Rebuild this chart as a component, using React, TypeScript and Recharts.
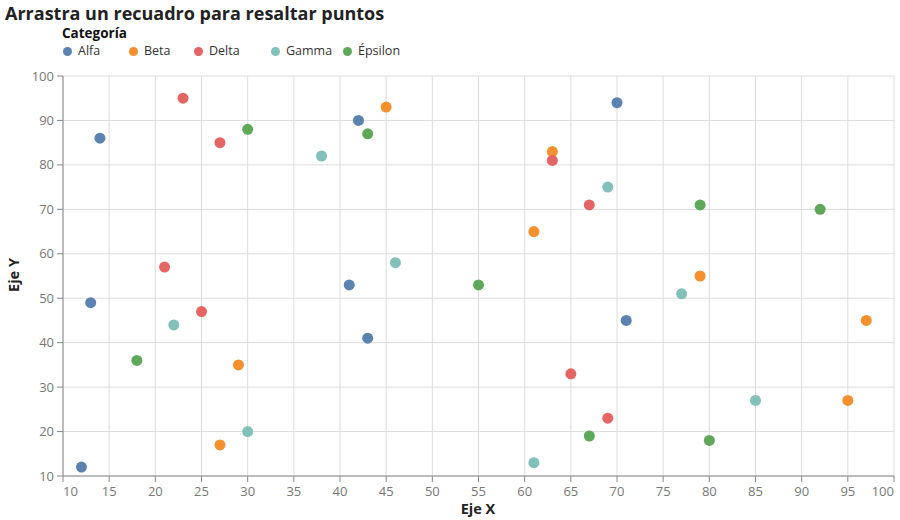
import React from 'react';
import { ScatterChart, Scatter, XAxis, YAxis, CartesianGrid } from 'recharts';

const categories = ['Alfa', 'Beta', 'Delta', 'Gamma', 'Épsilon'];
const colors = ['#5b82b0', '#f4912e', '#e56464', '#82c0ba', '#5fa85a'];

const alfa = [
  { x: 14, y: 86 }, { x: 13, y: 49 }, { x: 12, y: 12 }, { x: 42, y: 90 },
  { x: 41, y: 53 }, { x: 43, y: 41 }, { x: 70, y: 94 }, { x: 71, y: 45 },
];
const beta = [
  { x: 45, y: 93 }, { x: 63, y: 83 }, { x: 61, y: 65 }, { x: 79, y: 55 },
  { x: 97, y: 45 }, { x: 95, y: 27 }, { x: 29, y: 35 }, { x: 27, y: 17 },
];
const delta = [
  { x: 23, y: 95 }, { x: 27, y: 85 }, { x: 21, y: 57 }, { x: 25, y: 47 },
  { x: 63, y: 81 }, { x: 67, y: 71 }, { x: 65, y: 33 }, { x: 69, y: 23 },
];
const gamma = [
  { x: 38, y: 82 }, { x: 46, y: 58 }, { x: 22, y: 44 }, { x: 30, y: 20 },
  { x: 69, y: 75 }, { x: 77, y: 51 }, { x: 85, y: 27 }, { x: 61, y: 13 },
];
const epsilon = [
  { x: 30, y: 88 }, { x: 43, y: 87 }, { x: 18, y: 36 }, { x: 55, y: 53 },
  { x: 79, y: 71 }, { x: 92, y: 70 }, { x: 67, y: 19 }, { x: 80, y: 18 },
];
const seriesData = [alfa, beta, delta, gamma, epsilon];

const xTicks = [10, 15, 20, 25, 30, 35, 40, 45, 50, 55, 60, 65, 70, 75, 80, 85, 90, 95, 100];
const yTicks = [10, 20, 30, 40, 50, 60, 70, 80, 90, 100];

const FONT = '"Open Sans", "Noto Sans", sans-serif';
const legendLeft = [63, 129, 194, 271, 343];

const XTick = (props: any) => {
  const { x, y, payload } = props;
  const v = payload.value;
  const anchor = v === 10 ? 'start' : v === 100 ? 'end' : 'middle';
  return (
    <text x={x} y={y + 12} textAnchor={anchor} fontSize={13} fill="#777" fontFamily={FONT}>
      {v}
    </text>
  );
};

const YTick = (props: any) => {
  const { x, y, payload } = props;
  return (
    <text x={x - 1} y={y + 4.5} textAnchor="end" fontSize={13} fill="#777" fontFamily={FONT}>
      {payload.value}
    </text>
  );
};

export default function App() {
  return (
    <div style={{ position: 'absolute', left: 0, top: 0, width: 900, height: 520, fontFamily: FONT, background: '#fff' }}>
      <div style={{ position: 'absolute', left: 0, top: 0 }}>
        <ScatterChart width={900} height={520} margin={{ top: 76, right: 6, bottom: 0, left: 0 }}>
          <CartesianGrid stroke="#ddd" strokeWidth={1} />
          <XAxis
            type="number"
            dataKey="x"
            domain={[10, 100]}
            ticks={xTicks}
            interval={0}
            height={44}
            stroke="#888"
            tickSize={6}
            tick={<XTick />}
          />
          <YAxis
            type="number"
            dataKey="y"
            domain={[10, 100]}
            ticks={yTicks}
            interval={0}
            width={63}
            stroke="#888"
            tickSize={6}
            tick={<YTick />}
          />
          {seriesData.map((d, i) => (
            <Scatter
              key={categories[i]}
              name={categories[i]}
              data={d}
              isAnimationActive={false}
              shape={(p: any) => <circle cx={p.cx} cy={p.cy} r={5.5} fill={colors[i]} />}
            />
          ))}
        </ScatterChart>
      </div>
      <div style={{ position: 'absolute', left: 5, top: 3, fontSize: 18, lineHeight: '20px', fontWeight: 700, color: '#222', whiteSpace: 'nowrap' }}>
        Arrastra un recuadro para resaltar puntos
      </div>
      <div style={{ position: 'absolute', left: 62, top: 26, fontSize: 13.5, lineHeight: '15px', fontWeight: 700, color: '#111' }}>
        Categoría
      </div>
      {categories.map((c, i) => (
        <div key={c} style={{ position: 'absolute', left: legendLeft[i], top: 43, height: 16, lineHeight: '16px', display: 'flex', alignItems: 'center', fontSize: 12.5, color: '#333', whiteSpace: 'nowrap' }}>
          <span style={{ width: 9, height: 9, borderRadius: '50%', background: colors[i], display: 'inline-block', marginRight: 6 }} />
          {c}
        </div>
      ))}
      <div style={{ position: 'absolute', left: 428, top: 500, width: 100, lineHeight: '17px', textAlign: 'center', fontSize: 14.5, fontWeight: 700, color: '#222' }}>
        Eje X
      </div>
      <div style={{ position: 'absolute', left: -36, top: 265, width: 100, height: 20, lineHeight: '20px', textAlign: 'center', fontSize: 14.5, fontWeight: 700, color: '#222', transform: 'rotate(-90deg)' }}>
        Eje Y
      </div>
    </div>
  );
}
